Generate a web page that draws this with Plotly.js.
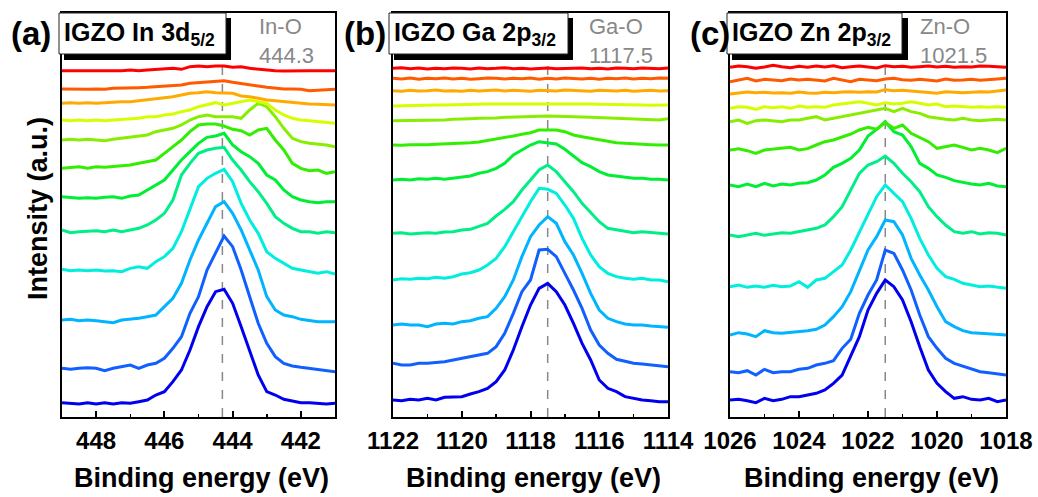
<!DOCTYPE html>
<html>
<head>
<meta charset="utf-8">
<script src="https://cdn.plot.ly/plotly-3.0.1.min.js"></script>
<style>html,body{margin:0;padding:0;background:#fff;}#chart{width:1038px;height:497px;}</style>
</head>
<body>
<div id="chart"></div>
<script>
// Binding energies (eV)
const energyIn = [449,448.75,448.5,448.25,448,447.75,447.5,447.25,447,446.75,446.5,446.25,446,445.75,445.5,445.25,445,444.75,444.5,444.25,444,443.75,443.5,443.25,443,442.75,442.5,442.25,442,441.75,441.5,441.25,441];
const energyGa = [1122,1121.75,1121.5,1121.25,1121,1120.75,1120.5,1120.25,1120,1119.75,1119.5,1119.25,1119,1118.75,1118.5,1118.25,1118,1117.75,1117.5,1117.25,1117,1116.75,1116.5,1116.25,1116,1115.75,1115.5,1115.25,1115,1114.75,1114.5,1114.25,1114];
const energyZn = [1026,1025.75,1025.5,1025.25,1025,1024.75,1024.5,1024.25,1024,1023.75,1023.5,1023.25,1023,1022.75,1022.5,1022.25,1022,1021.75,1021.5,1021.25,1021,1020.75,1020.5,1020.25,1020,1019.75,1019.5,1019.25,1019,1018.75,1018.5,1018.25,1018];

// Stacked intensities (a.u.), bottom (blue) to top (red)
const inSpectra = [
[43,41,39,43,39,43,39,43,41,46,51,66,76,106,141,201,271,331,376,383,341,271,201,126,76,66,53,49,43,43,41,39,41],
[146,143,146,148,146,139,146,151,156,146,156,161,176,206,241,311,361,441,491,543,511,441,361,281,221,181,161,153,149,146,143,141,136],
[291,293,289,291,289,286,283,291,293,296,301,306,331,356,401,471,531,581,631,646,611,561,501,441,361,321,306,301,293,289,286,286,286],
[443,439,441,439,441,438,439,436,446,451,446,466,481,506,556,621,691,716,731,743,706,641,591,551,496,476,461,446,441,436,431,436,429],
[561,553,556,558,559,556,561,556,561,566,576,591,611,651,726,761,791,801,806,809,771,741,706,676,641,601,581,566,556,556,551,556,553],
[661,659,656,658,656,659,661,656,663,666,681,696,711,741,771,796,821,839,843,851,816,796,781,761,726,711,681,661,651,646,643,646,646],
[746,749,751,746,751,749,751,753,756,761,766,771,791,811,831,856,876,879,879,873,863,859,846,861,866,831,801,761,746,739,741,731,736],
[831,833,831,833,831,829,833,836,839,841,846,856,861,866,876,891,901,906,901,901,901,896,921,941,931,901,866,836,826,821,819,816,811],
[891,889,891,889,891,889,891,893,896,896,901,901,906,909,916,921,931,936,943,936,941,946,951,946,941,921,906,896,891,889,886,883,881],
[941,943,941,943,941,943,943,946,946,949,951,953,956,961,966,971,973,976,973,971,971,963,961,956,951,949,946,943,941,939,938,936,936],
[984,983,984,983,984,983,986,986,986,988,989,991,991,993,996,1001,1003,1006,1007,1009,1004,1001,996,993,989,986,984,984,983,979,981,983,983],
[1039,1039,1038,1039,1038,1039,1038,1039,1041,1039,1041,1043,1043,1046,1043,1051,1053,1051,1053,1053,1049,1051,1046,1043,1041,1039,1038,1039,1039,1039,1039,1039,1039]
];
const gaSpectra = [
[51,49,53,51,56,51,59,61,61,69,76,86,106,141,201,271,336,386,401,376,336,281,221,171,111,86,76,61,56,51,49,46,46],
[161,156,156,161,161,163,166,171,176,181,186,191,211,251,311,376,411,501,503,481,431,381,326,261,216,191,173,166,161,159,156,153,151],
[276,279,276,276,271,279,281,279,286,289,296,301,326,361,411,481,541,576,601,581,526,486,431,371,321,296,286,279,276,276,273,271,269],
[411,415,413,416,415,419,416,421,429,433,441,456,476,511,556,601,646,686,683,671,636,596,536,486,451,431,421,416,413,416,411,411,406],
[551,553,549,551,553,551,555,556,561,563,571,581,603,623,646,681,711,741,756,736,706,676,641,613,586,566,561,556,553,556,553,551,549],
[711,713,711,715,713,716,713,717,721,723,731,736,746,761,786,801,816,826,823,819,803,783,763,751,736,726,723,721,716,716,713,713,711],
[816,815,817,816,817,818,819,819,821,823,825,829,835,839,843,848,853,861,861,861,856,846,841,836,831,826,823,821,819,818,817,816,816],
[889,889,891,890,891,891,891,893,893,895,896,896,897,899,900,901,902,903,903,902,902,901,900,899,898,896,895,894,893,892,891,891,895],
[933,934,935,934,935,936,936,937,937,938,938,939,939,939,940,940,941,941,941,941,940,940,939,939,938,938,937,937,936,936,935,935,936],
[979,977,980,978,979,981,978,979,977,980,978,979,981,978,980,979,977,980,979,978,981,979,978,977,980,979,978,980,977,979,980,978,979],
[1016,1014,1017,1013,1016,1015,1017,1014,1016,1013,1015,1017,1016,1014,1016,1015,1017,1013,1016,1014,1017,1015,1014,1016,1013,1016,1015,1017,1014,1016,1015,1017,1016],
[1046,1048,1045,1047,1044,1046,1045,1047,1046,1044,1047,1045,1046,1048,1045,1046,1044,1046,1047,1045,1046,1048,1047,1045,1046,1044,1047,1046,1045,1047,1046,1045,1047]
];
const znSpectra = [
[51,53,49,43,56,49,53,61,61,66,71,81,101,126,186,241,321,371,411,391,351,286,211,141,101,76,56,61,53,51,56,46,51],
[136,133,139,126,143,133,136,136,143,146,156,161,169,206,233,311,366,411,501,491,441,381,306,241,206,176,161,153,146,136,133,129,126],
[246,253,249,241,259,253,251,253,256,259,263,276,301,331,376,441,501,541,591,586,546,476,426,381,331,286,271,259,253,251,249,246,246],
[391,396,389,393,389,395,391,393,406,389,411,416,436,456,501,556,611,661,696,671,646,596,536,486,446,421,413,401,396,391,393,389,386],
[546,541,546,551,545,549,553,551,556,561,566,576,601,631,681,731,756,766,783,761,731,706,676,631,601,576,556,551,556,549,553,551,546],
[696,691,699,691,701,693,699,696,701,703,711,726,749,761,776,801,843,863,886,856,846,811,761,746,726,719,709,703,699,696,701,693,691],
[801,805,799,791,801,803,806,809,801,805,816,826,831,839,849,861,869,863,883,866,876,851,839,826,806,811,816,809,801,806,801,793,806],
[886,891,881,889,891,889,886,891,891,896,901,891,896,901,906,911,916,921,926,916,926,916,911,901,896,893,891,896,891,889,891,893,891],
[926,931,929,923,931,928,931,926,933,929,931,929,936,939,941,946,941,936,943,939,941,946,941,936,939,931,933,931,929,931,929,931,929],
[969,972,975,973,974,972,973,971,975,972,971,974,973,975,976,974,976,975,982,979,980,978,976,973,971,976,974,973,974,976,975,978,981],
[1006,1011,1016,1008,1013,1011,1009,1014,1011,1013,1011,1008,1016,1011,1006,1013,1011,1009,1014,1016,1012,1010,1013,1011,1008,1014,1010,1011,1013,1010,1011,1014,1016],
[1049,1053,1051,1046,1050,1055,1051,1048,1052,1049,1053,1050,1054,1048,1051,1053,1050,1047,1054,1051,1052,1049,1051,1053,1050,1052,1049,1051,1050,1053,1052,1051,1049]
];
const lineColors = ['#0000ee','#1060ff','#00b4ff','#00eedd','#00ee88','#00ee33','#33ee00','#88ee00','#d4ff00','#ffaa00','#ff5a00','#ff0000'];

const panelTitles = ['IGZO In 3d<sub>5/2</sub>','IGZO Ga 2p<sub>3/2</sub>','IGZO Zn 2p<sub>3/2</sub>'];
const panelLetters = ['(a)','(b)','(c)'];
const bondNames = ['In-O','Ga-O','Zn-O'];
const bondEnergies = [444.3, 1117.5, 1021.5];
const xRanges = [[449,441],[1122,1114],[1026,1018]];
const majorTicks = [[448,446,444,442],[1122,1120,1118,1116,1114],[1026,1024,1022,1020,1018]];
const xTitle = 'Binding energy (eV)';
const yTitle = 'Intensity (a.u.)';

const W = 1038, H = 497, TOP = 13, BOT = 417;
const px = v => v / W;
const py = v => (BOT - v) / (BOT - TOP);
const FONT = 'Arial, "Liberation Sans", sans-serif';

const panels = [
  {x: energyIn, s: inSpectra, dom: [62, 335], box: [59, 226], boxR: 231, bondX: 257, letterX: 31},
  {x: energyGa, s: gaSpectra, dom: [393, 668], box: [389, 568], boxR: 573, bondX: 587, letterX: 365},
  {x: energyZn, s: znSpectra, dom: [730, 1006], box: [727, 902], boxR: 908, bondX: 918, letterX: 710}
];

const data = [];
const layout = {
  width: W, height: H,
  margin: {l: 0, r: 0, t: TOP, b: H - BOT, pad: 0},
  paper_bgcolor: '#fff', plot_bgcolor: '#fff',
  showlegend: false,
  font: {family: FONT, color: '#000'},
  shapes: [], annotations: []
};

panels.forEach((p, i) => {
  const sfx = i === 0 ? '' : String(i + 1);
  const xa = 'x' + sfx, ya = 'y' + sfx;
  p.s.forEach((vals, j) => {
    data.push({x: p.x, y: vals, xaxis: xa, yaxis: ya, type: 'scatter', mode: 'lines',
      line: {color: lineColors[j], width: 3}, hoverinfo: 'skip'});
  });
  layout['xaxis' + sfx] = {
    domain: [px(p.dom[0]), px(p.dom[1])], anchor: ya, range: xRanges[i],
    tickvals: majorTicks[i], ticks: 'inside', ticklen: 6, tickwidth: 2, tickcolor: '#000',
    minor: {dtick: 1, tick0: 0, ticks: 'inside', ticklen: 3, tickwidth: 1.5, tickcolor: '#000', showgrid: false},
    showline: true, mirror: true, linewidth: 2, linecolor: '#000',
    showgrid: false, zeroline: false,
    tickfont: {family: FONT, size: 24, weight: 'bold', color: '#000'},
    ticklabelstandoff: 1
  };
  layout['yaxis' + sfx] = {
    domain: [0, 1], anchor: xa, range: [0, 1212],
    showticklabels: false, ticks: '', showline: true, mirror: true, linewidth: 2, linecolor: '#000',
    showgrid: false, zeroline: false
  };
  // reference line at peak position
  layout.shapes.push({type: 'line', xref: xa, yref: ya + ' domain', x0: bondEnergies[i], x1: bondEnergies[i], y0: 0, y1: 1,
    line: {color: '#888', width: 1.5, dash: 'dash'}, layer: 'below'});
  // title box with shadow
  layout.shapes.push({type: 'rect', xref: 'paper', yref: 'paper', x0: px(p.box[0] + 5), x1: px(p.boxR), y0: py(60), y1: py(18),
    fillcolor: '#000', line: {width: 0}, layer: 'above'});
  layout.shapes.push({type: 'rect', xref: 'paper', yref: 'paper', x0: px(p.box[0]), x1: px(p.box[1]), y0: py(54), y1: py(13),
    fillcolor: '#fff', line: {color: '#222', width: 1}, layer: 'above'});
  layout.annotations.push({xref: 'paper', yref: 'paper', x: px(p.box[0] + 3), y: py(34), xanchor: 'left', yanchor: 'middle',
    text: panelTitles[i], showarrow: false, font: {family: FONT, size: 25, weight: 'bold', color: '#000'}});
  layout.annotations.push({xref: 'paper', yref: 'paper', x: px(p.letterX), y: py(33), xanchor: 'center', yanchor: 'middle',
    text: panelLetters[i], showarrow: false, font: {family: FONT, size: 33, weight: 'bold', color: '#000'}});
  layout.annotations.push({xref: 'paper', yref: 'paper', x: px(p.bondX), y: py(41), xanchor: 'left', yanchor: 'middle', align: 'left',
    text: bondNames[i] + '<br>' + bondEnergies[i].toFixed(1), showarrow: false,
    font: {family: FONT, size: 22, color: '#888'}});
  layout.annotations.push({xref: 'paper', yref: 'paper', x: px((p.dom[0] + p.dom[1]) / 2 + 3), y: py(478), xanchor: 'center', yanchor: 'middle',
    text: xTitle, showarrow: false, font: {family: FONT, size: 27, weight: 'bold', color: '#000'}});
});
layout.annotations.push({xref: 'paper', yref: 'paper', x: px(38), y: py(209), xanchor: 'center', yanchor: 'middle',
  text: yTitle, textangle: -90, showarrow: false, font: {family: FONT, size: 27, weight: 'bold', color: '#000'}});

Plotly.newPlot('chart', data, layout, {staticPlot: true, displayModeBar: false});
</script>
</body>
</html>
